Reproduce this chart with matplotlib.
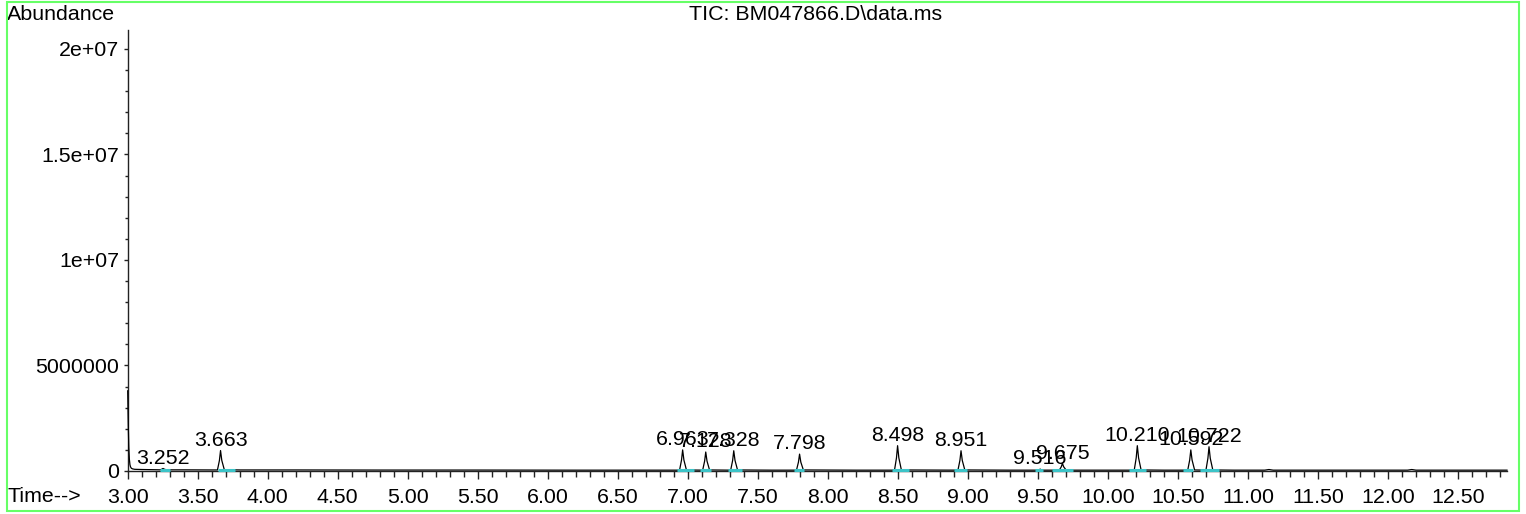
import matplotlib
matplotlib.use("Agg")
import matplotlib.pyplot as plt
from matplotlib.ticker import MultipleLocator, FixedLocator, FixedFormatter
from matplotlib.patches import Rectangle

plt.rcParams['font.family'] = ['Liberation Sans', 'DejaVu Sans']

# ---- data ----
title = "TIC: BM047866.D\\data.ms"
y_label = "Abundance"
x_label = "Time-->"

# TIC trace (time in min, abundance)
trace_time = [
    3.000, 3.004, 3.008, 3.012, 3.016, 3.020, 3.026, 3.035, 3.05, 3.10, 3.20,
    3.232, 3.245, 3.252, 3.260, 3.275,
    3.40, 3.60,
    3.641, 3.655, 3.663, 3.672, 3.690,
    3.80, 4.20, 4.80, 5.50, 6.20, 6.80, 6.94,
    6.941, 6.955, 6.963, 6.972, 6.990,
    7.106, 7.120, 7.128, 7.137, 7.155,
    7.306, 7.320, 7.328, 7.337, 7.355,
    7.60,
    7.776, 7.790, 7.798, 7.807, 7.825,
    8.20,
    8.476, 8.490, 8.498, 8.507, 8.525,
    8.929, 8.943, 8.951, 8.960, 8.978,
    9.30,
    9.500, 9.510, 9.516, 9.523, 9.535,
    9.653, 9.667, 9.675, 9.684, 9.702,
    9.95,
    10.188, 10.202, 10.210, 10.219, 10.237,
    10.40,
    10.570, 10.584, 10.592, 10.601, 10.619,
    10.700, 10.714, 10.722, 10.731, 10.749,
    10.90, 11.12, 11.15, 11.18, 11.60, 12.14, 12.17, 12.20, 12.60, 12.85,
]
trace_abund = [
    3.80e6, 2.20e6, 1.10e6, 0.55e6, 0.30e6, 0.20e6, 0.13e6, 0.10e6, 0.08e6, 0.07e6, 0.06e6,
    0.055e6, 0.09e6, 0.12e6, 0.09e6, 0.055e6,
    0.055e6, 0.05e6,
    0.05e6, 0.50e6, 0.97e6, 0.50e6, 0.06e6,
    0.05e6, 0.05e6, 0.045e6, 0.045e6, 0.04e6, 0.04e6, 0.04e6,
    0.04e6, 0.52e6, 1.00e6, 0.52e6, 0.05e6,
    0.04e6, 0.47e6, 0.90e6, 0.47e6, 0.05e6,
    0.04e6, 0.50e6, 0.96e6, 0.50e6, 0.05e6,
    0.04e6,
    0.04e6, 0.42e6, 0.80e6, 0.42e6, 0.05e6,
    0.04e6,
    0.04e6, 0.62e6, 1.20e6, 0.62e6, 0.05e6,
    0.04e6, 0.50e6, 0.96e6, 0.50e6, 0.05e6,
    0.04e6,
    0.04e6, 0.06e6, 0.09e6, 0.06e6, 0.04e6,
    0.04e6, 0.20e6, 0.36e6, 0.20e6, 0.04e6,
    0.04e6,
    0.04e6, 0.62e6, 1.20e6, 0.62e6, 0.05e6,
    0.04e6,
    0.04e6, 0.52e6, 1.00e6, 0.52e6, 0.05e6,
    0.04e6, 0.60e6, 1.15e6, 0.60e6, 0.05e6,
    0.04e6, 0.04e6, 0.07e6, 0.04e6, 0.04e6, 0.04e6, 0.07e6, 0.04e6, 0.04e6, 0.04e6,
]

# integrated peaks
peak_labels = ["3.252", "3.663", "6.963", "7.128", "7.328", "7.798", "8.498",
               "8.951", "9.516", "9.675", "10.210", "10.592", "10.722"]
peak_times = [3.252, 3.663, 6.963, 7.128, 7.328, 7.798, 8.498,
              8.951, 9.516, 9.675, 10.210, 10.592, 10.722]
peak_heights = [0.12e6, 0.97e6, 1.00e6, 0.90e6, 0.96e6, 0.80e6, 1.20e6,
                0.96e6, 0.09e6, 0.36e6, 1.20e6, 1.00e6, 1.15e6]
integ_start = [3.231, 3.647, 6.921, 7.088, 7.290, 7.761, 8.457,
               8.902, 9.481, 9.600, 10.154, 10.538, 10.659]
integ_end = [3.303, 3.766, 7.047, 7.167, 7.390, 7.833, 8.583,
             8.993, 9.540, 9.750, 10.271, 10.611, 10.795]
integ_level = [0.03e6] * len(peak_times)

x_min, x_max = 3.0, 12.85
y_min, y_max = 0.0, 20.9e6
y_major = [0, 5e6, 1e7, 1.5e7, 2e7]
y_major_labels = ["0", "5000000", "1e+07", "1.5e+07", "2e+07"]

# ---- figure ----
W, H = 1526, 514
fig = plt.figure(figsize=(W / 100, H / 100), dpi=100)
ax = fig.add_axes([127.7 / W, (H - 471) / H, (1507 - 127.7) / W, (471 - 30) / H])

FS = 15.4
ax.plot(trace_time, trace_abund, color='black', lw=0.9, zorder=3, clip_on=False)
ax.hlines(integ_level, integ_start, integ_end, color='#3cc4c8', lw=2.2, zorder=4,
          clip_on=False)

for lab, t, h in zip(peak_labels, peak_times, peak_heights):
    ax.annotate(lab, xy=(t, h), xytext=(0, 3.5), textcoords='offset points',
                ha='center', va='baseline', fontsize=FS, color='black', zorder=5)

ax.set_xlim(x_min, x_max)
ax.set_ylim(y_min, y_max)
for s in ['top', 'right']:
    ax.spines[s].set_visible(False)
for s in ['left', 'bottom']:
    ax.spines[s].set_color('#222222')
    ax.spines[s].set_linewidth(1.0)

ax.xaxis.set_major_locator(MultipleLocator(0.5))
ax.xaxis.set_minor_locator(MultipleLocator(0.1))
ax.xaxis.set_major_formatter(matplotlib.ticker.FormatStrFormatter('%.2f'))
ax.yaxis.set_major_locator(FixedLocator(y_major))
ax.yaxis.set_major_formatter(FixedFormatter(y_major_labels))
ax.yaxis.set_minor_locator(MultipleLocator(1e6))

ax.tick_params(axis='x', which='major', length=6, width=1, pad=6, labelsize=FS, color='#222222')
ax.tick_params(axis='x', which='minor', length=4, width=1, color='#222222')
ax.tick_params(axis='y', which='major', length=3, width=1, pad=3, labelsize=FS, color='#222222')
ax.tick_params(axis='y', which='minor', length=2, width=1, color='#222222')

fig.text(7 / W, 1 - 15 / H, y_label, fontsize=FS, ha='left', va='center')
fig.text(7 / W, 1 - 497 / H, x_label, fontsize=FS, ha='left', va='center')
fig.text(816 / W, 1 - 15 / H, title, fontsize=FS, ha='center', va='center')

fig.patches.append(Rectangle((7 / W, 1 - 511 / H), (1519 - 7) / W, (511 - 2) / H,
                             transform=fig.transFigure, fill=False,
                             edgecolor='#66ff66', lw=1.5, zorder=10))

fig.savefig("out.png", dpi=100)
